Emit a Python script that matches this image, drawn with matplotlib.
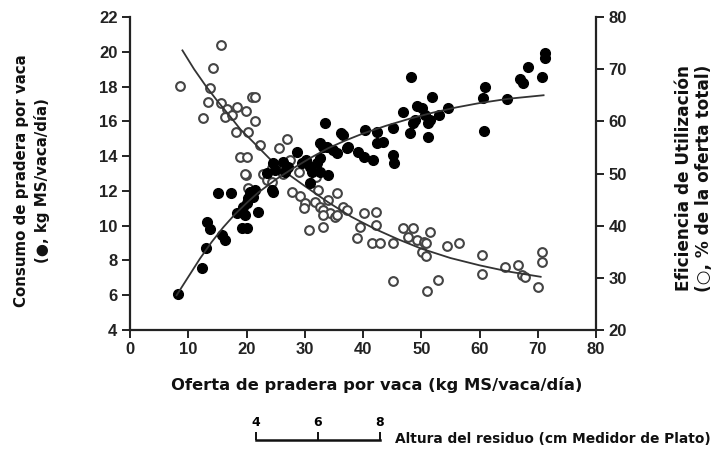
import matplotlib
matplotlib.use("Agg")
import matplotlib.pyplot as plt

# ---- data -------------------------------------------------------------
# Consumption (filled circles, left axis, kg MS/vaca/dia)
cons_x = [8.2, 12.4, 13.0, 13.2, 13.7, 15.1, 17.3, 15.8, 16.3, 18.4, 19.7, 19.2, 20.1,
          20.3, 21.1, 20.6, 22.0, 20.1, 19.4, 21.5, 24.5, 23.5, 24.9, 27.0, 24.6, 26.3,
          27.2, 26.6, 29.5, 30.3, 30.9, 32.1, 31.2, 32.6, 30.9, 34.0, 32.6, 24.3, 28.6,
          33.5, 32.6, 33.8, 34.9, 35.5, 36.6, 37.2, 39.2, 40.1, 40.3, 41.8, 42.4, 43.5,
          42.4, 45.2, 45.2, 45.3, 48.1, 48.6, 51.2, 50.6, 51.5, 46.9, 48.3, 60.9, 60.6,
          60.8, 64.7, 67.0, 67.4, 68.3, 71.2, 71.2, 70.7, 49.2, 50.1, 48.9, 51.2, 53.1,
          54.6, 51.8, 36.3, 37.4, 33.1]
cons_y = [6.07, 7.57, 8.72, 10.21, 9.81, 11.88, 11.88, 9.46, 9.18, 10.73, 10.61, 9.87, 9.87,
          11.59, 11.65, 11.94, 10.79, 11.30, 11.07, 12.05, 11.94, 13.03, 13.2, 13.32, 13.59, 13.68,
          13.39, 13.10, 13.59, 13.78, 13.39, 13.59, 13.10, 13.10, 12.44, 12.91, 13.87, 12.05, 14.25,
          15.9, 14.74, 14.54, 14.35, 14.16, 15.21, 14.45, 14.25, 13.97, 15.5, 13.78, 15.4, 14.83,
          14.74, 15.6, 14.06, 13.59, 15.31, 15.89, 15.12, 16.36, 16.08, 16.55, 18.57, 17.97, 17.32,
          15.46, 17.27, 18.43, 18.22, 19.12, 19.93, 19.64, 18.53, 16.88, 16.75, 16.08, 15.89, 16.36,
          16.75, 17.38, 15.31, 14.54, 14.5]

# Utilisation efficiency (open circles, right axis, % of total offer)
eff_x = [15.7, 14.2, 8.6, 13.7, 13.4, 12.6, 15.7, 16.6, 16.3, 17.5, 18.4, 19.9, 20.9, 21.5,
         21.5, 20.3, 18.2, 22.3, 26.9, 25.6, 18.9, 20.1, 19.9, 20.3, 22.9, 24.3, 23.5, 24.3,
         19.7, 27.5, 26.3, 27.8, 29.0, 32.0, 32.3, 29.2, 30.0, 29.8, 31.8, 32.6, 33.2, 34.0,
         35.5, 34.3, 35.2, 36.6, 37.2, 40.1, 42.3, 33.2, 35.5, 30.8, 33.1, 39.5, 42.3, 38.9,
         41.5, 42.9, 45.2, 46.9, 48.6, 47.8, 49.2, 45.2, 50.4, 50.9, 50.1, 50.8, 51.5, 54.4,
         56.4, 60.4, 60.4, 64.4, 66.6, 67.3, 67.8, 70.7, 70.8, 70.1, 51.0, 52.8]
eff_y = [74.6, 70.2, 66.8, 66.3, 63.8, 60.6, 63.5, 62.3, 60.9, 61.2, 62.8, 62.0, 64.7, 64.7,
         60.1, 58.0, 58.0, 55.5, 56.7, 54.8, 53.2, 53.2, 49.7, 47.2, 50.0, 51.0, 48.8, 48.4,
         50.0, 52.6, 50.0, 46.5, 50.3, 49.4, 46.8, 45.6, 44.3, 43.3, 44.6, 43.6, 43.0, 44.9,
         46.2, 42.4, 41.7, 43.6, 43.0, 42.4, 42.7, 42.0, 42.0, 39.2, 39.7, 39.8, 40.1, 37.6,
         36.6, 36.6, 36.6, 39.5, 39.5, 37.9, 37.3, 29.3, 36.9, 36.6, 35.0, 34.1, 38.8, 36.1,
         36.7, 34.4, 30.7, 32.1, 32.5, 30.5, 30.2, 35.0, 33.1, 28.2, 27.5, 29.6]

# Fitted curves
cons_fit_x = [8, 10, 12, 14, 16, 18, 20, 22, 25, 28, 31, 34, 37, 40, 44, 48, 52, 56, 60, 65, 71]
cons_fit_y = [6.0, 7.05, 8.1, 9.05, 9.9, 10.65, 11.3, 11.9, 12.65, 13.3, 13.9, 14.45, 14.9,
              15.3, 15.75, 16.15, 16.5, 16.8, 17.05, 17.3, 17.5]
eff_fit_x = [9, 11, 13, 15, 17, 19, 21, 24, 27, 30, 34, 38, 42, 46, 50, 55, 60, 65, 70.5]
eff_fit_y = [73.6, 70.0, 66.8, 63.9, 61.2, 58.4, 56.2, 52.8, 50.0, 47.6, 44.5, 41.7, 39.4,
             37.4, 35.6, 33.8, 32.4, 31.2, 30.2]

x_ticks = [0, 10, 20, 30, 40, 50, 60, 70, 80]
yl_ticks = [4, 6, 8, 10, 12, 14, 16, 18, 20, 22]
yr_ticks = [20, 30, 40, 50, 60, 70, 80]
res_ticks = [4, 6, 8]

xlabel = "Oferta de pradera por vaca (kg MS/vaca/día)"
ylabel_left = "Consumo de pradera por vaca\n(●, kg MS/vaca/día)"
ylabel_right = "Eficiencia de Utilización\n(○, % de la oferta total)"
res_label = "Altura del residuo (cm Medidor de Plato)"

# ---- figure -----------------------------------------------------------
W, H = 717, 451
fig = plt.figure(figsize=(W / 100, H / 100), dpi=100)
fig.patch.set_facecolor("white")

tick_font = dict(family="Liberation Sans", weight="bold", size=12)
label_font = dict(family="DejaVu Sans", weight="bold")

ax = fig.add_axes([130 / W, 1 - 330 / H, (596 - 130) / W, (330 - 17) / H])
ax2 = ax.twinx()

ax.set_xlim(0, 80)
ax.set_ylim(4, 22)
ax2.set_ylim(20, 80)
ax.set_xticks(x_ticks)
ax.set_yticks(yl_ticks)
ax2.set_yticks(yr_ticks)

for a in (ax, ax2):
    a.spines["top"].set_visible(False)
    for s in a.spines.values():
        s.set_linewidth(1.6)
        s.set_color("#222222")
ax.spines["right"].set_visible(False)
ax2.spines["left"].set_visible(False)
ax2.spines["bottom"].set_visible(False)

ax.tick_params(axis="both", direction="out", length=6, width=1.4, color="#222222", pad=3)
ax2.tick_params(axis="y", direction="out", length=6, width=1.4, color="#222222", pad=3)
for lab in ax.get_xticklabels() + ax.get_yticklabels() + ax2.get_yticklabels():
    lab.set_fontproperties(matplotlib.font_manager.FontProperties(**tick_font))
    lab.set_color("#222222")

# open circles & efficiency fit on the right axis
ax2.plot(eff_x, eff_y, linestyle="none", marker="o", markersize=6.3,
         markerfacecolor="white", markeredgecolor="#444444", markeredgewidth=1.5, zorder=2)
ax2.plot(eff_fit_x, eff_fit_y, color="#333333", linewidth=1.3, zorder=3)

# filled circles & consumption fit on the left axis (drawn above ax2)
ax.set_zorder(ax2.get_zorder() + 1)
ax.patch.set_visible(False)
ax.plot(cons_x, cons_y, linestyle="none", marker="o", markersize=7,
        markerfacecolor="black", markeredgecolor="black", zorder=2)
ax.plot(cons_fit_x, cons_fit_y, color="#333333", linewidth=1.3, zorder=3)

# axis labels
fig.text(377 / W, 1 - 385 / H, xlabel, ha="center", va="center", fontsize=11.8, **label_font,
         color="#111111")
fig.text(32 / W, 1 - 181 / H, ylabel_left, ha="center", va="center", rotation=90,
         multialignment="center", fontsize=10.8, linespacing=1.45, **label_font, color="#111111")
fig.text(694 / W, 1 - 178 / H, ylabel_right, ha="center", va="center", rotation=90,
         multialignment="center", fontsize=12.2, linespacing=1.1, **label_font, color="#111111")

# residual height scale
axr = fig.add_axes([256 / W, 11 / H, (380 - 256) / W, 8 / H])
axr.set_xlim(4, 8)
axr.set_ylim(0, 1)
axr.set_yticks([])
axr.set_xticks(res_ticks)
axr.patch.set_visible(False)
for k in ("top", "left", "right"):
    axr.spines[k].set_visible(False)
axr.spines["bottom"].set_linewidth(1.8)
axr.spines["bottom"].set_color("#111111")
axr.tick_params(axis="x", direction="in", length=6, width=1.4, color="#111111",
                labelbottom=False, labeltop=True, top=False, bottom=True, pad=2)
for lab in axr.get_xticklabels():
    lab.set_fontproperties(matplotlib.font_manager.FontProperties(family="DejaVu Sans",
                                                                  weight="bold", size=9))
fig.text(395 / W, 1 - 439 / H, res_label, ha="left", va="center", fontsize=9.9,
         **label_font, color="#111111")

fig.savefig("out.png", dpi=100, facecolor="white")
